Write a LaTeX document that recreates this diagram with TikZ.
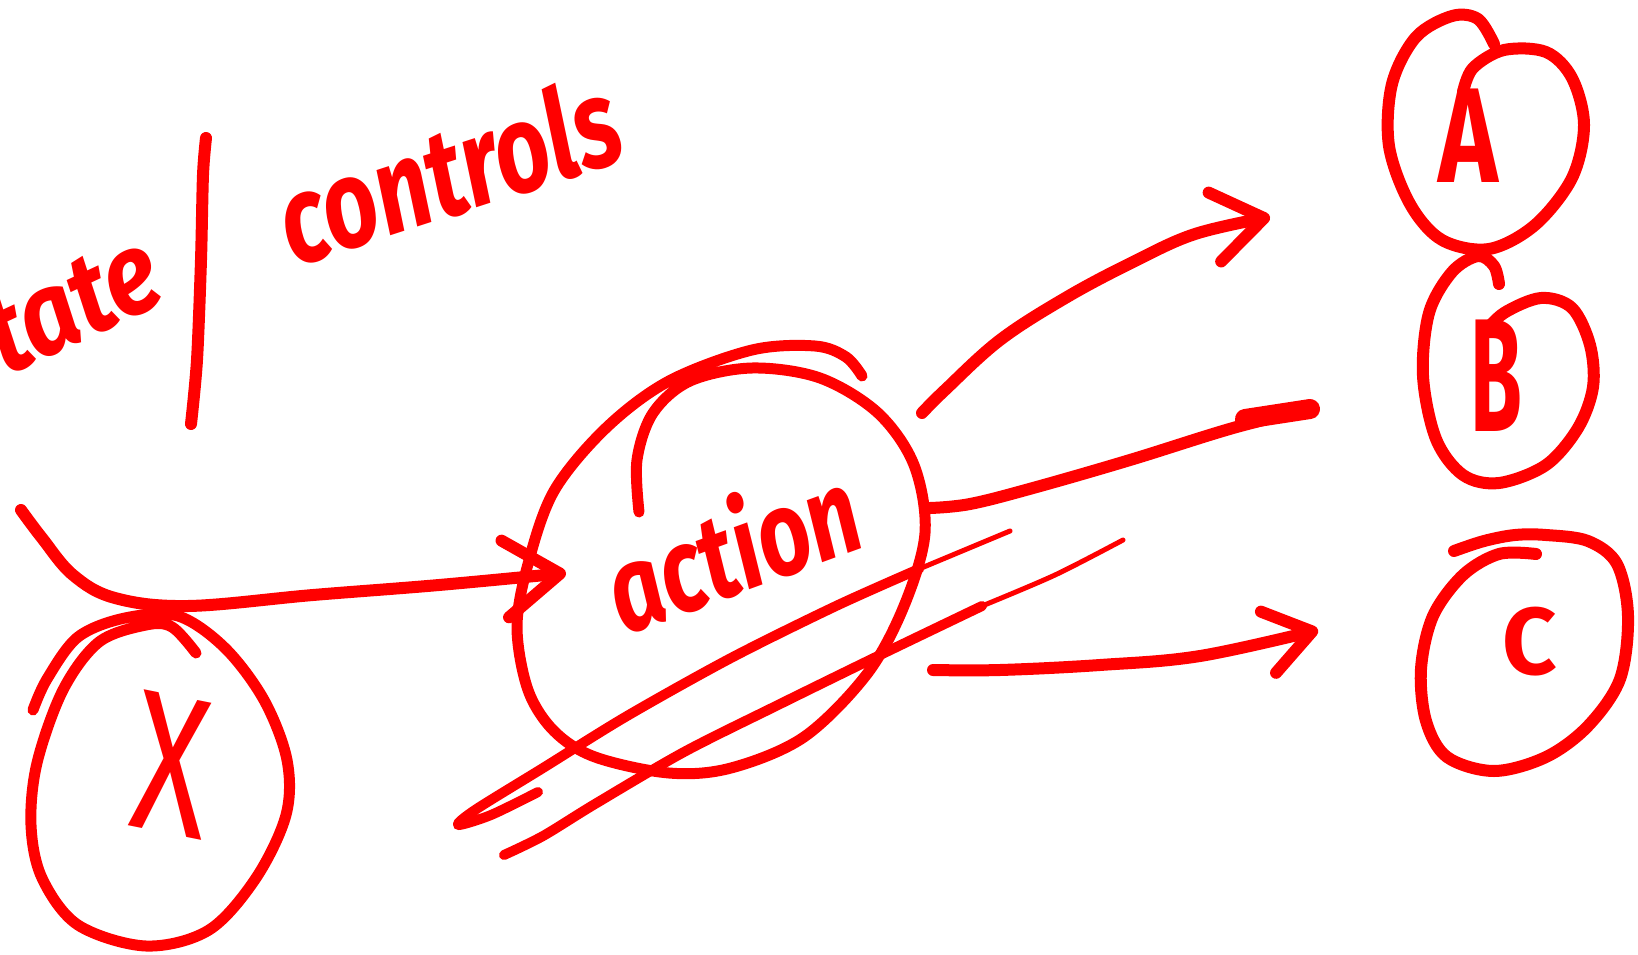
\documentclass[tikz,border=0pt]{standalone}
\usepackage{fontspec}
\setmainfont{Fira Sans}
\usetikzlibrary{arrows.meta}
\definecolor{inkred}{RGB}{255,0,0}
\tikzset{
  ink/.style={draw=inkred, line width=12pt, line cap=round, line join=round},
  fineink/.style={draw=inkred, line width=5pt, line cap=round, line join=round},
  blobink/.style={draw=inkred, line width=20pt, line cap=round, line join=round},
  lbl/.style={text=inkred, inner sep=0pt, font=\bfseries\itshape},
  barbtip/.style={-{Straight Barb[length=#1, width=#1*1.4, round]}},
}
\begin{document}
\begin{tikzpicture}[x=1pt, y=-1pt]
\useasboundingbox (0,0) rectangle (1638,955);

% ---------- labels ----------
\node[lbl, font=\fontsize{100}{100}\selectfont\bfseries\itshape, anchor=base east, rotate=25, yscale=1.15] (state) at (170,300) {state};
\node[lbl, font=\fontsize{96}{96}\selectfont\bfseries\itshape, anchor=base, rotate=18, yscale=1.3] (controls) at (462,213) {controls};
\node[lbl, font=\fontsize{92}{92}\selectfont\bfseries\itshape, rotate=20, yscale=1.3] (action) at (731,546) {action};
\node[lbl, font=\fontsize{135}{135}\selectfont\bfseries, xscale=0.75] (A) at (1468,136) {A};
\node[lbl, font=\fontsize{140}{140}\selectfont\bfseries, xscale=0.6, yscale=1.15] (B) at (1496,376) {B};
\node[lbl, font=\fontsize{95}{95}\selectfont\bfseries] (C) at (1530,642) {C};
\node[lbl, font=\fontsize{200}{200}\selectfont, xscale=0.7, rotate=-8] (X) at (172,765) {X};

% ---------- divider ----------
\coordinate (barTop) at (206,138);
\coordinate (barBot) at (191,424);
\draw[ink] plot[smooth] coordinates {(barTop) (203,175) (201,260) (197,360) (barBot)};

% ---------- circles (hand-drawn loops) ----------
% action
\coordinate (actS) at (862,376);
\coordinate (actE) at (639,512);
\draw[ink, line width=11pt] plot[smooth, tension=0.55] coordinates {(actS) (846,357) (815,346) (752,350) (669,381) (606,428) (554,491) (528,564) (517,627) (528,690) (554,731) (595,757) (669,773) (731,768) (804,737) (867,674) (904,606) (925,533) (914,465) (878,413) (820,378) (752,368) (690,381) (653,413) (637,460) (actE)};

% x
\coordinate (xS) at (196,653);
\coordinate (xE) at (33,710);
\draw[ink, line width=11pt] plot[smooth, tension=0.55] coordinates {(xS) (172,627) (146,625) (99,642) (63,690) (37,763) (31,825) (42,878) (78,925) (146,946) (209,930) (256,878) (286,815) (287,760) (264,700) (225,648) (178,616) (125,618) (78,637) (47,679) (xE)};

% A
\coordinate (aS) at (1463,92);
\coordinate (aE) at (1494,44);
\draw[ink] plot[smooth, tension=0.55] coordinates {(aS) (1473,68) (1504,50) (1546,52) (1572,78) (1584,125) (1572,178) (1535,225) (1489,249) (1442,240) (1410,204) (1389,146) (1392,84) (1416,37) (1452,16) (1478,19) (aE)};

% B
\coordinate (bS) at (1483,334);
\coordinate (bE) at (1499,284);
\draw[ink] plot[smooth, tension=0.55] coordinates {(bS) (1504,313) (1541,298) (1572,308) (1590,345) (1593,387) (1578,428) (1546,465) (1499,483) (1463,475) (1436,439) (1423,376) (1429,313) (1452,272) (1478,256) (1494,266) (bE)};

% C
\coordinate (cS) at (1454,551);
\coordinate (cE) at (1536,554);
\draw[ink] plot[smooth, tension=0.55] coordinates {(cS) (1484,541) (1515,535) (1546,535) (1588,541) (1617,564) (1628,616) (1620,679) (1588,726) (1546,757) (1494,771) (1447,757) (1426,721) (1421,669) (1433,616) (1463,575) (1499,554) (cE)};

% ---------- connectors ----------
% x -> action
\coordinate (inS) at (21,510);
\coordinate (inE) at (566,573);
\draw[ink, barbtip=55pt] plot[smooth, tension=0.6] coordinates {(inS) (42,538) (73,575) (115,598) (188,606) (313,595) (439,585) (inE)};

% action -> A
\coordinate (oaS) at (922,413);
\coordinate (oaE) at (1270,217);
\draw[ink, barbtip=50pt] plot[smooth, tension=0.6] coordinates {(oaS) (945,390) (1000,340) (1067,297) (1133,262) (1195,234) (oaE)};

% action -> B
\coordinate (obS) at (930,508);
\coordinate (obE) at (1310,409);
\draw[ink] plot[smooth, tension=0.6] coordinates {(obS) (970,504) (1033,488) (1130,460) (1233,428) (obE)};
\draw[blobink] (1245,419) -- (obE);

% action -> C
\coordinate (ocS) at (933,670);
\coordinate (ocE) at (1318,630);
\draw[ink, barbtip=45pt] plot[smooth, tension=0.6] coordinates {(ocS) (1000,670) (1100,665) (1200,656) (ocE)};

% ---------- strike lines ----------
\coordinate (s1a) at (1010,531);
\coordinate (s1b) at (919,569);
\coordinate (s1e) at (538,792);
\draw[fineink] (s1a) -- (s1b);
\draw[ink, line width=10pt] plot[smooth, tension=0.5] coordinates {(s1b) (836,606) (731,658) (627,716) (543,768) (475,810) (458,825) (491,815) (s1e)};

\coordinate (s2a) at (1123,540);
\coordinate (s2b) at (982,606);
\coordinate (s2e) at (504,855);
\draw[fineink] plot[smooth] coordinates {(s2a) (1055,575) (s2b)};
\draw[ink, line width=10pt] plot[smooth, tension=0.5] coordinates {(s2b) (878,656) (778,705) (684,752) (595,804) (543,836) (s2e)};
\end{tikzpicture}
\end{document}
